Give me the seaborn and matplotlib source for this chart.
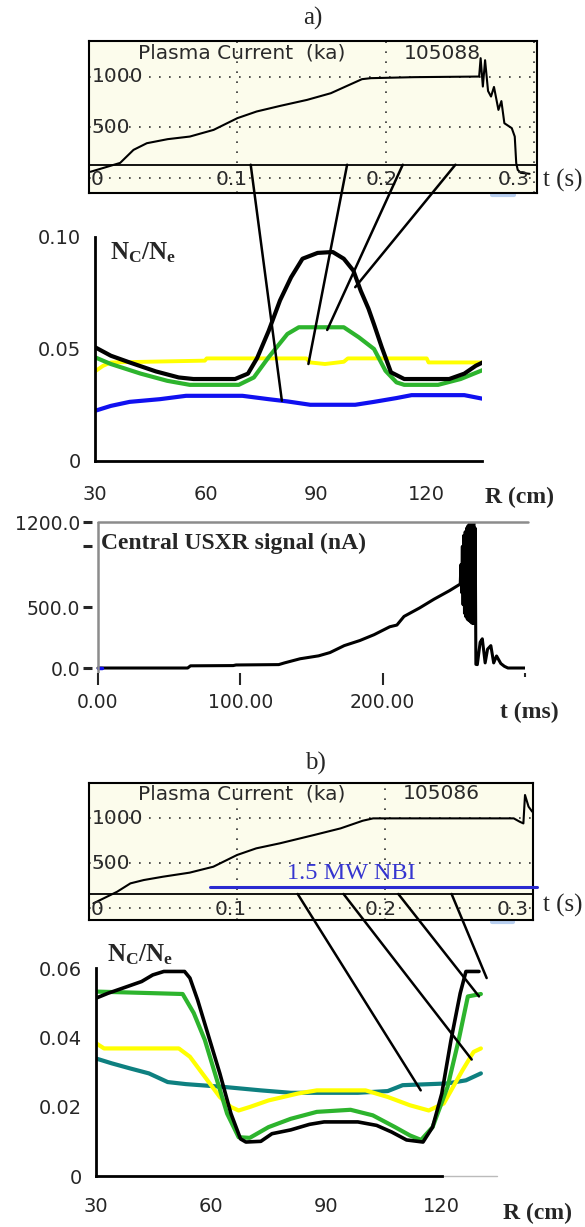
import matplotlib
matplotlib.use("Agg")
import matplotlib.pyplot as plt
from matplotlib.patches import ConnectionPatch
import seaborn as sns

# ---- a) plasma current, shot 105088 ----
ip_a_t = [0.001, 0.021, 0.030, 0.039, 0.053, 0.068, 0.084, 0.100, 0.113, 0.129, 0.147,
          0.163, 0.174, 0.184, 0.190, 0.219, 0.263, 0.264, 0.2655, 0.267, 0.269, 0.271,
          0.273, 0.276, 0.278, 0.280, 0.285, 0.287, 0.288, 0.289, 0.291, 0.297]
ip_a_ka = [60, 148, 277, 343, 383, 409, 475, 591, 657, 713, 772,
           838, 911, 977, 987, 997, 1003, 1185, 904, 1165, 860, 805,
           900, 673, 760, 541, 492, 409, 145, 79, 50, 40]

# ---- a) carbon fraction profiles ----
r_a_black = [30, 34.3, 39.4, 46.5, 52.7, 56.7, 68, 71.5, 74, 77.1, 80.2, 83.2, 86.3, 90.4,
             94.5, 97.5, 100.1, 102.1, 104.2, 105.7, 107.8, 110.3, 113.9, 126.1, 130.2, 133.3, 135.8]
nc_a_black = [0.0508, 0.047, 0.044, 0.040, 0.0373, 0.0366, 0.0366, 0.039, 0.046, 0.058, 0.0717,
              0.082, 0.0903, 0.0929, 0.0933, 0.0903, 0.085, 0.076, 0.068, 0.061, 0.0508, 0.0396,
              0.0366, 0.0366, 0.039, 0.0425, 0.0445]
r_a_green = [30, 34.3, 42.4, 49.6, 55.7, 69, 73.1, 77.1, 82.2, 85.3, 97.5, 101.6, 105.7,
             108.8, 111.8, 113.9, 123.1, 129.2, 135.8]
nc_a_green = [0.0463, 0.0433, 0.039, 0.0358, 0.034, 0.034, 0.0373, 0.0463, 0.0567, 0.0597,
              0.0597, 0.0552, 0.050, 0.0403, 0.0351, 0.034, 0.034, 0.0366, 0.041]
r_a_yellow = [30, 32.2, 34.3, 59.8, 60.3, 87.3, 88.4, 92.4, 97.5, 98.6, 120, 120.5, 135.8]
nc_a_yellow = [0.040, 0.0425, 0.044, 0.0448, 0.0458, 0.0458, 0.044, 0.0433, 0.0443, 0.0458,
               0.0458, 0.044, 0.044]
r_a_blue = [30, 34.3, 39.4, 47.6, 54.7, 70, 77.1, 82.2, 88.4, 100.6, 105.7, 111.8, 115.9, 130.2, 135.8]
nc_a_blue = [0.0224, 0.0246, 0.0264, 0.0276, 0.0291, 0.0291, 0.0276, 0.0266, 0.0251, 0.0251,
             0.0264, 0.0281, 0.0294, 0.0294, 0.0276]

# connector lines a): time on current trace -> point on profile
link_a_t = [0.109, 0.174, 0.2115, 0.247]
link_a_r = [80.7, 87.9, 93.0, 100.6]
link_a_nc = [0.0269, 0.0433, 0.0585, 0.0776]

# ---- central USXR signal ----
sxr_t = [0, 63, 65, 95, 97, 127, 131, 142, 155, 163, 173, 184, 194, 205, 210, 215, 226, 236,
         247, 254.5, 255, 255.5, 256, 256.5, 257, 257.5, 258, 258.5, 259, 259.5, 260, 260.5,
         261, 261.5, 262, 262.5, 263, 263.5, 264, 264.5, 265, 265.5, 266.5, 268.5, 270, 272,
         273.7, 276, 278, 280, 283, 285.5, 288, 300]
sxr_na = [0, 0, 18, 20, 25, 28, 42, 76, 100, 127, 184, 226, 274, 339, 353, 424, 494, 565,
          636, 690, 850, 620, 1000, 520, 1090, 450, 1120, 420, 1150, 400, 1170, 390,
          1190, 380, 1200, 370, 1210, 365, 1200, 370, 1150, 30, 28, 212, 240, 42,
          155, 184, 42, 99, 37, 14, 0, 0]

# ---- b) plasma current, shot 105086 ----
ip_b_t = [0.003, 0.019, 0.028, 0.037, 0.050, 0.068, 0.084, 0.100, 0.113, 0.129, 0.152,
          0.170, 0.185, 0.192, 0.250, 0.287, 0.291, 0.2935, 0.2946, 0.297, 0.2995]
ip_b_ka = [52, 181, 274, 311, 348, 393, 459, 589, 663, 719, 811,
           885, 970, 996, 996, 996, 959, 940, 1256, 1126, 1070]
nbi_t = [0.082, 0.303]
nbi_level = [233, 233]

# ---- b) carbon fraction profiles ----
r_b_black = [30, 33.1, 37, 41.9, 44.8, 47.7, 53.1, 54.5, 56.5, 59.4, 62.3, 65.2, 67.7, 69.1,
             73, 75.9, 80.8, 85.7, 89.5, 98.3, 103.2, 107.1, 111, 115.3, 117.8, 120.2, 122.6,
             125, 126.5, 129.9]
nc_b_black = [0.0513, 0.0527, 0.0542, 0.0561, 0.058, 0.059, 0.059, 0.0571, 0.0508, 0.0402,
              0.0296, 0.018, 0.0107, 0.0098, 0.010, 0.0122, 0.0133, 0.0149, 0.0156, 0.0156,
              0.0146, 0.0127, 0.0104, 0.0098, 0.0141, 0.0238, 0.0392, 0.0527, 0.059, 0.059]
r_b_green = [30, 52.6, 55.5, 58.4, 61.3, 64.2, 67.2, 70.1, 75, 80.8, 87.6, 96.4, 102.2, 108,
             111.9, 114.8, 117.8, 121.7, 124.6, 127, 130.4]
nc_b_green = [0.0532, 0.0525, 0.047, 0.0392, 0.0286, 0.018, 0.0112, 0.011, 0.0141, 0.0165,
              0.0185, 0.0191, 0.0175, 0.0141, 0.0117, 0.0104, 0.0141, 0.0257, 0.0392, 0.0518, 0.0525]
r_b_yellow = [30, 32.1, 51.6, 54.5, 58.4, 62.3, 65.2, 67.2, 70.1, 75, 82.7, 87.6, 100.3,
              106.1, 111.9, 116.8, 120.7, 125.6, 128.5, 130.4]
nc_b_yellow = [0.0383, 0.0368, 0.0368, 0.0344, 0.0286, 0.0228, 0.0199, 0.0189, 0.0199, 0.0218,
               0.0238, 0.0247, 0.0247, 0.0228, 0.0204, 0.0189, 0.0209, 0.0305, 0.0358, 0.0368]
r_b_teal = [30, 34.1, 39, 43.8, 48.7, 53.5, 63.3, 73, 80.8, 98.3, 106.1, 110, 121.7, 126.5, 130.4]
nc_b_teal = [0.0339, 0.0325, 0.031, 0.0296, 0.0271, 0.0265, 0.0257, 0.0247, 0.024, 0.024,
             0.0245, 0.0262, 0.0267, 0.0276, 0.0296]

link_b_t = [0.141, 0.172, 0.209, 0.245]
link_b_r = [114.7, 128.0, 129.9, 131.9]
link_b_nc = [0.0247, 0.0336, 0.0518, 0.0571]

sns.set_style("white")
plt.rcParams["font.family"] = ["DejaVu Sans"]
plt.rcParams["mathtext.fontset"] = "custom"
plt.rcParams["mathtext.bf"] = "Liberation Serif:bold"
plt.rcParams["mathtext.rm"] = "Liberation Serif:bold"

W, H = 585, 1227
fig = plt.figure(figsize=(W / 100, H / 100), dpi=100)
fig.patch.set_facecolor("white")


def px_axes(left, top, right, bottom):
    return fig.add_axes([left / W, 1 - bottom / H, (right - left) / W, (bottom - top) / H])


SERIF = "Liberation Serif"
GREEN, YELLOW, BLUE, TEAL = "#2db42d", "#ffff00", "#1010f0", "#0e8080"


def current_panel(ax, t, ip, shot, xmax, ylim, ref_level):
    ax.set_facecolor("#fcfcec")
    for x in [0.0, 0.1, 0.2, 0.3]:
        ax.axvline(x, color="#333333", lw=1.2, ls=(0, (1, 5)), zorder=1)
    for y in [0, 500, 1000]:
        ax.axhline(y, color="#333333", lw=1.2, ls=(0, (1, 5)), zorder=1)
    ax.axhline(ref_level, color="black", lw=1.3, zorder=2)
    sns.lineplot(x=t, y=ip, ax=ax, color="black", lw=1.5, sort=False, estimator=None, zorder=3)
    ax.set_xlim(0, xmax)
    ax.set_ylim(*ylim)
    ax.set_xticks([])
    ax.set_yticks([])
    ax.set_xlabel("")
    ax.set_ylabel("")
    for s in ax.spines.values():
        s.set_visible(True)
        s.set_linewidth(1.5)
        s.set_color("black")
    kw = dict(fontsize=14.5, color="#2a2a2a", va="center")
    top = ylim[0] + 0.92 * (ylim[1] - ylim[0])
    ax.text(0.033, top, "Plasma Current  (ka)", **kw)
    ax.text(0.212, top, shot, **kw)
    ax.text(0.002, 1000, "1000", **kw)
    ax.text(0.002, 500, "500", **kw)
    ax.text(0.001, -15, "0", **kw)
    for x, lab in zip([0.096, 0.197, 0.286], ["0.1", "0.2", "0.3"]):
        ax.text(x, -15, lab, ha="center", **kw)
    ax.plot([0.272, 0.2865], [ylim[0] - 20, ylim[0] - 20], color="#b8cff0", lw=3, clip_on=False)


def profile_axes(ax, xmax, ymax, yticks, ylabels):
    ax.set_xlim(30, xmax)
    ax.set_ylim(0, ymax)
    sns.despine(ax=ax)
    for s in ["left", "bottom"]:
        ax.spines[s].set_linewidth(2)
        ax.spines[s].set_color("black")
    ax.set_xticks([30, 60, 90, 120])
    ax.set_xticklabels(["30", "60", "90", "120"])
    ax.set_yticks(yticks)
    ax.set_yticklabels(ylabels)
    ax.tick_params(axis="x", direction="out", length=6, width=2, labelsize=14, pad=11)
    ax.tick_params(axis="y", direction="out", length=5, width=1.5, labelsize=14, pad=5)
    ax.set_xlabel("")
    ax.set_ylabel("")


def link(ax_from, ax_to, t, level, r, nc):
    for ti, ri, ni in zip(t, r, nc):
        con = ConnectionPatch(xyA=(ti, level), coordsA=ax_from.transData,
                              xyB=(ri, ni), coordsB=ax_to.transData,
                              color="black", lw=1.8, zorder=10)
        fig.add_artist(con)


# ---------------- a) ----------------
fig.text(313 / W, 1 - 18 / H, "a)", family=SERIF, fontsize=18, ha="center", va="center")
ax_ia = px_axes(89, 41, 537, 193)
current_panel(ax_ia, ip_a_t, ip_a_ka, "105088", 0.302, (-150, 1355), 130)
fig.text(543 / W, 1 - 180 / H, "t (s)", family=SERIF, fontsize=18, va="center")

ax_pa = px_axes(95, 237, 482, 461)
sns.lineplot(x=r_a_blue, y=nc_a_blue, ax=ax_pa, color=BLUE, lw=3, estimator=None)
sns.lineplot(x=r_a_yellow, y=nc_a_yellow, ax=ax_pa, color=YELLOW, lw=2.8, estimator=None)
sns.lineplot(x=r_a_green, y=nc_a_green, ax=ax_pa, color=GREEN, lw=3, estimator=None)
sns.lineplot(x=r_a_black, y=nc_a_black, ax=ax_pa, color="black", lw=3, estimator=None)
profile_axes(ax_pa, 135, 0.10, [0, 0.05, 0.10], ["0", "0.05", "0.10"])
ax_pa.text(0.04, 0.93, r"$\mathbf{N_C/N_e}$", transform=ax_pa.transAxes,
           fontsize=18, va="center")
fig.text(485 / W, 1 - 497 / H, "R (cm)", family=SERIF, weight="bold", fontsize=17, va="center")
link(ax_ia, ax_pa, link_a_t, 130, link_a_r, link_a_nc)

# ---------------- USXR ----------------
ax_sx = px_axes(92, 522, 525, 673)
sns.lineplot(x=sxr_t, y=sxr_na, ax=ax_sx, color="black", lw=2.2, sort=False, estimator=None)
ax_sx.plot([0, 3], [0, 0], color="#1010f0", lw=2.5)
ax_sx.set_xlim(-4.2, 300)
ax_sx.set_ylim(-41, 1200)
for s in ax_sx.spines.values():
    s.set_visible(False)
ax_sx.axvline(0, color="#8c8c8c", lw=1.8)
ax_sx.plot([0, 302], [1200, 1200], color="#8c8c8c", lw=1.8, clip_on=False)
ax_sx.set_xticks([0, 100, 200])
ax_sx.set_xticklabels(["0.00", "100.00", "200.00"])
ax_sx.set_xticks([300], minor=True)
ax_sx.set_yticks([0, 500, 1000, 1200])
ax_sx.set_yticklabels(["0.0", "500.0", "", "1200.0"])
ax_sx.tick_params(axis="x", which="major", direction="out", length=8.5, width=1.5,
                  labelsize=13.5, pad=6, bottom=True)
ax_sx.tick_params(axis="x", which="minor", direction="out", length=3, width=1.5, bottom=True)
ax_sx.tick_params(axis="y", direction="out", length=6.5, width=2.2, labelsize=13.5, pad=2, left=True)
ax_sx.set_xlabel("")
ax_sx.set_ylabel("")
ax_sx.text(101 / W, 1 - 543 / H, "Central USXR signal (nA)", transform=fig.transFigure,
           family=SERIF, weight="bold", fontsize=17, va="center")
fig.text(500 / W, 1 - 712 / H, "t (ms)", family=SERIF, weight="bold", fontsize=17, va="center")

# ---------------- b) ----------------
fig.text(315 / W, 1 - 763 / H, "b)", family=SERIF, fontsize=18, ha="center", va="center")
ax_ib = px_axes(89, 783, 533, 920)
current_panel(ax_ib, ip_b_t, ip_b_ka, "105086", 0.30, (-133, 1389), 156)
ax_ib.plot(nbi_t, nbi_level, color="#2a2ad0", lw=2.2, clip_on=False, zorder=4)
ax_ib.text(0.134, 389, "1.5 MW NBI", family=SERIF, fontsize=17.5, color="#3535d0",
           ha="left", va="center")
fig.text(543 / W, 1 - 905 / H, "t (s)", family=SERIF, fontsize=18, va="center")

ax_pb = px_axes(96, 968, 497, 1176)
sns.lineplot(x=r_b_teal, y=nc_b_teal, ax=ax_pb, color=TEAL, lw=3, estimator=None)
sns.lineplot(x=r_b_yellow, y=nc_b_yellow, ax=ax_pb, color=YELLOW, lw=3, estimator=None)
sns.lineplot(x=r_b_green, y=nc_b_green, ax=ax_pb, color=GREEN, lw=3, estimator=None)
sns.lineplot(x=r_b_black, y=nc_b_black, ax=ax_pb, color="black", lw=2.6, estimator=None)
profile_axes(ax_pb, 134.6, 0.06, [0, 0.02, 0.04, 0.06], ["0", "0.02", "0.04", "0.06"])
ax_pb.spines["bottom"].set_bounds(30, 120.3)
ax_pb.plot([120.3, 134.6], [0, 0], color="#bbbbbb", lw=1, clip_on=False)
ax_pb.tick_params(axis="x", pad=9)
ax_pb.text(107 / W, 1 - 955 / H, r"$\mathbf{N_C/N_e}$", transform=fig.transFigure,
           fontsize=18, va="center")
fig.text(503 / W, 1 - 1213 / H, "R (cm)", family=SERIF, weight="bold", fontsize=17, va="center")
link(ax_ib, ax_pb, link_b_t, 156, link_b_r, link_b_nc)

fig.savefig("out.png", dpi=100, facecolor="white")
